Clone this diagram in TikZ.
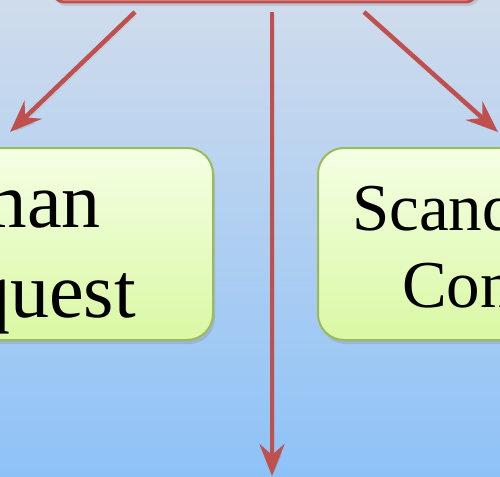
\documentclass[tikz,border=0pt]{standalone}
\usepackage{fontspec}
\setmainfont{Liberation Serif}
\usepackage{tikz}
\usetikzlibrary{calc,positioning,arrows.meta,shadows}
\definecolor{bgtop}{RGB}{208,220,236}
\definecolor{bgbot}{RGB}{142,194,247}
\definecolor{linkred}{RGB}{192,80,77}
\definecolor{boxtop}{RGB}{244,255,228}
\definecolor{boxbot}{RGB}{218,248,164}
\definecolor{boxedge}{RGB}{155,187,89}
\tikzset{
    era/.style={
        shape=rectangle,
        rounded corners=26pt,
        draw=boxedge,
        line width=2pt,
        top color=boxtop,
        bottom color=boxbot,
        drop shadow={opacity=0.25, shadow xshift=2pt, shadow yshift=-4pt}
    },
    link/.style={
        draw=linkred,
        line width=4.5pt,
        -{Stealth[length=32pt, width=25pt, inset=11pt]},
        preaction={draw=black!60, opacity=0.15, transform canvas={shift={(2pt,-3pt)}}}
    },
    bigtext/.style={inner sep=0pt, font=\fontsize{78}{90}\selectfont},
    midtext/.style={inner sep=0pt, font=\fontsize{67}{77}\selectfont}
}

\begin{document}
\begin{tikzpicture}[x=1pt, y=-1pt]
		\useasboundingbox (0,0) rectangle (500,476);
		\shade [top color=bgtop, bottom color=bgbot] (0,0) rectangle (500,476);
		
		% top box, only its lower edge shows
		\node (top) at (265,-38) [draw=linkred, line width=3pt, fill=linkred!20, rounded corners=14pt,
			minimum width=428pt, minimum height=80pt,
			drop shadow={opacity=0.25, shadow xshift=2pt, shadow yshift=-4pt}] {};
		
		\node (nor) at (0,244) [era, minimum width=426pt, minimum height=192pt] {};
		\node (sca) at (531,244) [era, minimum width=426pt, minimum height=192pt] {};
		
		\node (nor1) at (101,227) [bigtext, anchor=base east] {man};
		\node (nor2) at (136,317) [bigtext, anchor=base east] {quest};
		\node (sca1) at (352,230) [midtext, anchor=base west] {Scand};
		\node (sca2) at (402,307) [midtext, anchor=base west] {Con};
		
		\coordinate (la) at (135,12);
		\coordinate (lb) at (10,132);
		\coordinate (ma) at (272,12);
		\coordinate (mb) at (272,476);
		\coordinate (ra) at (364,12);
		\coordinate (rb) at (498,132);
		
		\draw [link] (la) -- (lb);
		\draw [link] (ma) -- (mb);
		\draw [link] (ra) -- (rb);
	\end{tikzpicture}
\end{document}
